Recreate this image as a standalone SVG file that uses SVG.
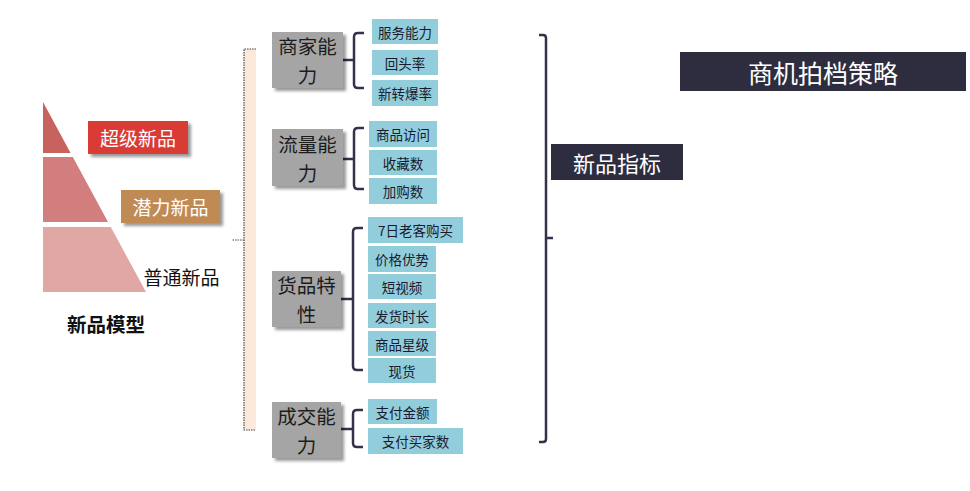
<svg xmlns="http://www.w3.org/2000/svg" width="970" height="491" viewBox="0 0 970 491">
<defs>
<filter id="sh" x="-20%" y="-20%" width="150%" height="150%">
<feDropShadow dx="3" dy="3" stdDeviation="1.6" flood-color="#000" flood-opacity="0.4"/>
</filter>
<style>
text{font-family:"Noto Sans CJK SC","Microsoft YaHei",sans-serif;dominant-baseline:central;text-anchor:middle}
.cat rect{fill:#a5a5a5;filter:url(#sh)}
.cat text{font-size:19.5px;fill:#1c1c1c}
.leaf rect{fill:#92cddc}
.leaf text{font-size:13.5px;fill:#1a1a2e}
.br{fill:none;stroke:#33324a;stroke-width:2.5;stroke-linecap:butt}
.dark rect{fill:#2e2d40}
.dark text{fill:#fff}
</style>
</defs>
<rect width="970" height="491" fill="#fff"/>

<g id="pyramid">
<polygon points="43,102 70.6,153 43,153" fill="#c8625f"/>
<polygon points="43,157 72.8,157 108,222 43,222" fill="#d37e7e"/>
<polygon points="43,227 110.8,227 146,292 43,292" fill="#e0a7a5"/>
</g>
<g id="super">
<rect x="88" y="121" width="100" height="33" fill="#d93b36" filter="url(#sh)"/>
<text x="138" y="137.5" font-size="19" fill="#fff">超级新品</text>
</g>
<g id="potential">
<rect x="121" y="190" width="99" height="33" fill="#c08a55" filter="url(#sh)"/>
<text x="170.5" y="206.5" font-size="19" fill="#fff">潜力新品</text>
</g>
<g id="normal">
<text x="181.5" y="276" font-size="19" fill="#111">普通新品</text>
</g>
<g id="model">
<text x="106" y="323" font-size="19.5" font-weight="bold" fill="#111">新品模型</text>
</g>

<g id="leftbrace">
<rect x="244" y="49" width="12" height="381" fill="#fde9dc"/>
<path d="M256,49 H244 V430 H256 M244,240 H232" fill="none" stroke="#444" stroke-width="1.2" stroke-dasharray="1.5,1"/>
</g>

<g id="connectors">
<path class="br" d="M343,60 H354 M364,33 H358 Q354,33 354,37 V84 Q354,88 358,88 H364"/>
<path class="br" d="M343,159 H354 M364,128 H358 Q354,128 354,132 V185 Q354,189 358,189 H364"/>
<path class="br" d="M341,299 H353 M363,228 H357 Q353,228 353,232 V366 Q353,370 357,370 H363"/>
<path class="br" d="M341,429 H353 M363,410 H357 Q353,410 353,414 V443 Q353,447 357,447 H363"/>
<path class="br" d="M539,35 H543 Q546,35 546,38 V439 Q546,442 543,442 H539 M546,238 H553"/>
</g>

<g id="cat-merchant" class="cat">
<rect x="272" y="32" width="71" height="56"/>
<text x="307.5" y="45.8">商家能<tspan x="307.5" dy="28.4">力</tspan></text>
</g>
<g id="cat-traffic" class="cat">
<rect x="272" y="129" width="71" height="57"/>
<text x="307.5" y="143.3">流量能<tspan x="307.5" dy="28.4">力</tspan></text>
</g>
<g id="cat-goods" class="cat">
<rect x="272" y="271" width="69" height="56"/>
<text x="306.5" y="284.8">货品特<tspan x="306.5" dy="28.4">性</tspan></text>
</g>
<g id="cat-deal" class="cat">
<rect x="272" y="402" width="69" height="56"/>
<text x="306.5" y="415.8">成交能<tspan x="306.5" dy="28.4">力</tspan></text>
</g>

<g id="leaf-1" class="leaf"><rect x="372" y="19" width="66" height="25"/><text x="405" y="31.5">服务能力</text></g>
<g id="leaf-2" class="leaf"><rect x="372" y="50" width="66" height="25"/><text x="405" y="62.5">回头率</text></g>
<g id="leaf-3" class="leaf"><rect x="372" y="80" width="66" height="26"/><text x="405" y="93">新转爆率</text></g>
<g id="leaf-4" class="leaf"><rect x="369" y="121" width="68" height="26"/><text x="403" y="134">商品访问</text></g>
<g id="leaf-5" class="leaf"><rect x="369" y="150" width="68" height="25"/><text x="403" y="162.5">收藏数</text></g>
<g id="leaf-6" class="leaf"><rect x="369" y="178" width="68" height="26"/><text x="403" y="191">加购数</text></g>
<g id="leaf-7" class="leaf"><rect x="368" y="217" width="95" height="26"/><text x="415.5" y="230">7日老客购买</text></g>
<g id="leaf-8" class="leaf"><rect x="368" y="246" width="68" height="26"/><text x="402" y="259">价格优势</text></g>
<g id="leaf-9" class="leaf"><rect x="368" y="274" width="68" height="25"/><text x="402" y="286.5">短视频</text></g>
<g id="leaf-10" class="leaf"><rect x="368" y="303" width="68" height="25"/><text x="402" y="315.5">发货时长</text></g>
<g id="leaf-11" class="leaf"><rect x="368" y="331" width="68" height="25"/><text x="402" y="343.5">商品星级</text></g>
<g id="leaf-12" class="leaf"><rect x="368" y="358" width="68" height="25"/><text x="402" y="370.5">现货</text></g>
<g id="leaf-13" class="leaf"><rect x="368" y="399" width="69" height="25"/><text x="402.5" y="411.5">支付金额</text></g>
<g id="leaf-14" class="leaf"><rect x="368" y="428" width="95" height="26"/><text x="415.5" y="441">支付买家数</text></g>

<g id="metric" class="dark">
<rect x="551" y="144" width="132" height="36"/>
<text x="617" y="162" font-size="22">新品指标</text>
</g>
<g id="strategy" class="dark">
<rect x="680" y="52" width="286" height="39"/>
<text x="823" y="71.5" font-size="25">商机拍档策略</text>
</g>
</svg>
